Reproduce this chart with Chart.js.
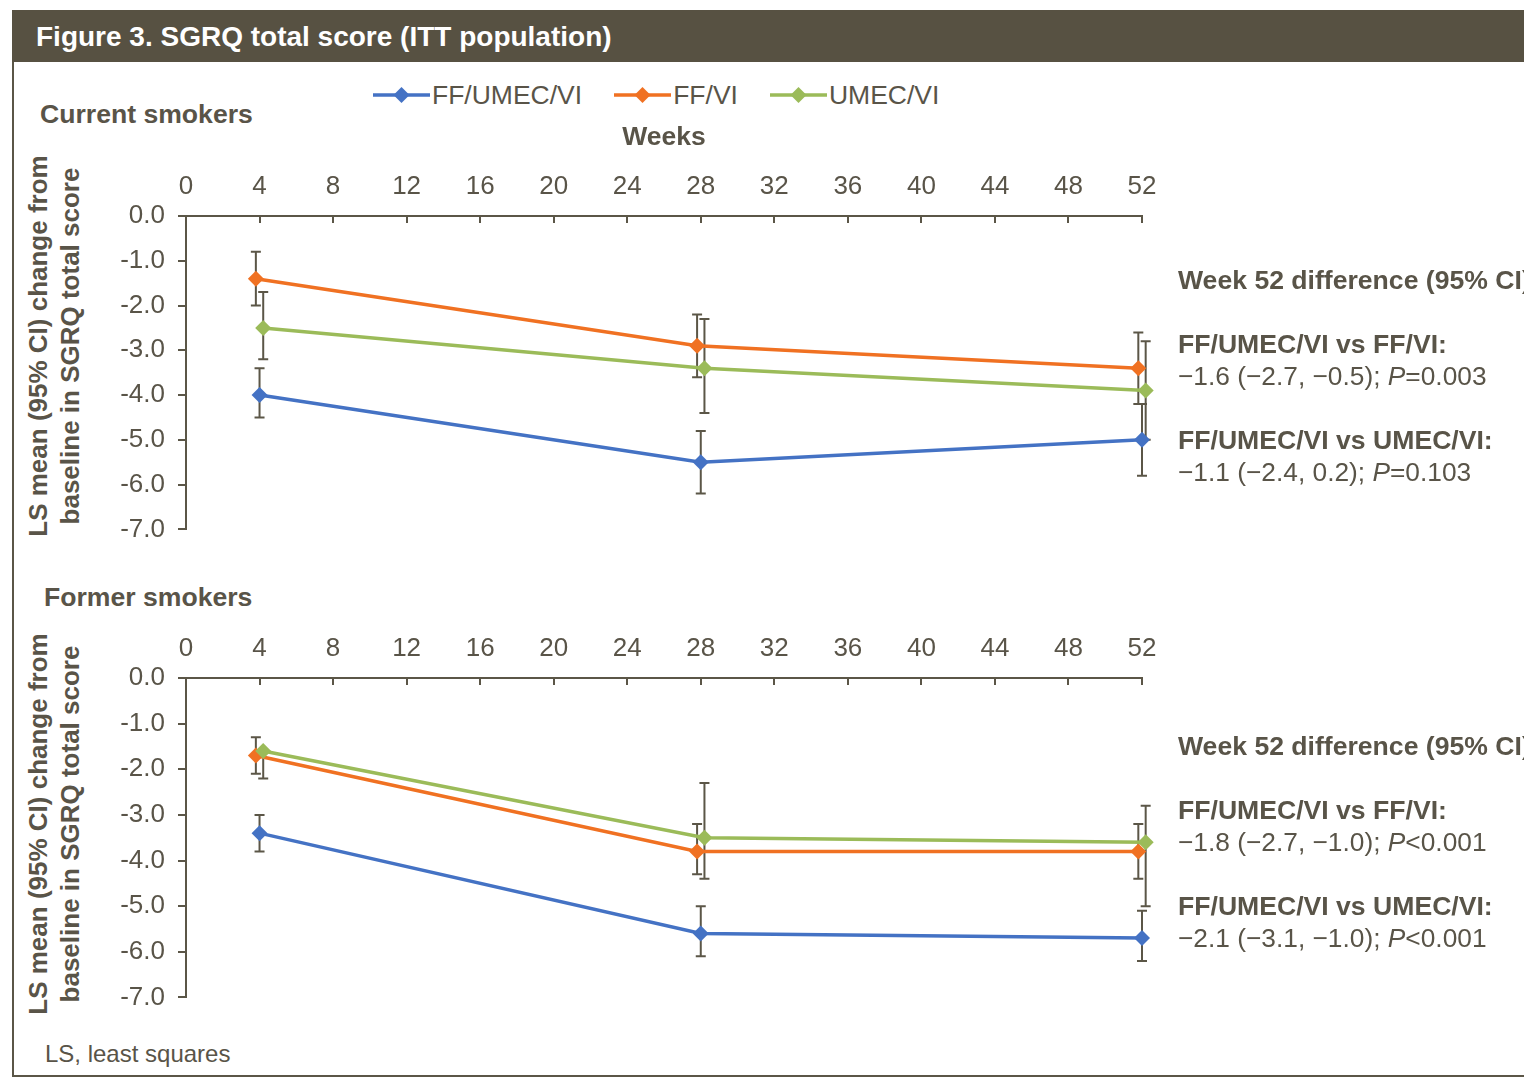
<!DOCTYPE html>
<html>
<head>
<meta charset="utf-8">
<script src="https://cdn.jsdelivr.net/npm/chart.js@4.4.1/dist/chart.umd.min.js"></script>
<style>
  body { margin: 0; background: #fff; font-family: "Liberation Sans", Arial, sans-serif; color: #595448; }
  #page { position: relative; width: 1524px; height: 1085px; overflow: hidden; }
  .frame { position: absolute; left: 12px; top: 10px; width: 1600px; height: 1067px; border: 2px solid #5b5647; box-sizing: border-box; }
  .header { position: absolute; left: 12px; top: 10px; width: 1600px; height: 52px; background: #575142; }
  .title { position: absolute; left: 36px; top: 10px; line-height: 54px; font-size: 28px; font-weight: bold; color: #fff; }
  .lbl { position: absolute; white-space: nowrap; font-size: 26.3px; line-height: 32px; }
  .b { font-weight: bold; font-size: 26.6px; }
  .ytitle { position: absolute; white-space: nowrap; font-size: 26px; font-weight: bold; line-height: 32px; text-align: center;
            transform: translate(-50%, -50%) rotate(-90deg); }
  #legend { position: absolute; left: 373px; top: 79px; display: flex; gap: 32px; font-size: 26.5px; line-height: 32px; }
  #legend .item { display: flex; align-items: center; }
  #legend svg { margin-right: 2px; }
  canvas { position: absolute; left: 0; }
</style>
</head>
<body>
<div id="page">
  <div class="frame"></div>
  <div class="header"></div>
  <div class="title">Figure 3. SGRQ total score (ITT population)</div>

  <div id="legend"></div>

  <div class="lbl b" style="left:40px; top:98px;">Current smokers</div>
  <div class="ytitle" style="left:54px; top:346px;">LS mean (95% CI) change from<br>baseline in SGRQ total score</div>
  <canvas id="chartCurrent" width="1180" height="458" style="top:100px;"></canvas>

  <div class="lbl b" style="left:1178px; top:264px;">Week 52 difference (95% CI)</div>
  <div class="lbl b" style="left:1178px; top:328px;">FF/UMEC/VI vs FF/VI:</div>
  <div class="lbl" style="left:1178px; top:360px;">−1.6 (−2.7, −0.5); <i>P</i>=0.003</div>
  <div class="lbl b" style="left:1178px; top:424px;">FF/UMEC/VI vs UMEC/VI:</div>
  <div class="lbl" style="left:1178px; top:456px;">−1.1 (−2.4, 0.2); <i>P</i>=0.103</div>

  <div class="lbl b" style="left:44px; top:581px;">Former smokers</div>
  <div class="ytitle" style="left:54px; top:824px;">LS mean (95% CI) change from<br>baseline in SGRQ total score</div>
  <canvas id="chartFormer" width="1180" height="414" style="top:612px;"></canvas>

  <div class="lbl b" style="left:1178px; top:730px;">Week 52 difference (95% CI)</div>
  <div class="lbl b" style="left:1178px; top:794px;">FF/UMEC/VI vs FF/VI:</div>
  <div class="lbl" style="left:1178px; top:826px;">−1.8 (−2.7, −1.0); <i>P</i>&lt;0.001</div>
  <div class="lbl b" style="left:1178px; top:890px;">FF/UMEC/VI vs UMEC/VI:</div>
  <div class="lbl" style="left:1178px; top:922px;">−2.1 (−3.1, −1.0); <i>P</i>&lt;0.001</div>

  <div class="lbl" style="left:45px; top:1038px; font-size:24px;">LS, least squares</div>
</div>

<script>
// donnees

const weeks = [4, 28, 52];
const weekTicks = [0, 4, 8, 12, 16, 20, 24, 28, 32, 36, 40, 44, 48, 52];
const scoreTicks = [0, -1, -2, -3, -4, -5, -6, -7];
const seriesNames = ['FF/UMEC/VI', 'FF/VI', 'UMEC/VI'];

// current smokers
const curTripleMean = [-4.0, -5.5, -5.0];
const curTripleLo   = [-4.5, -6.2, -5.8];
const curTripleHi   = [-3.4, -4.8, -4.2];
const curFfviMean = [-1.4, -2.9, -3.4];
const curFfviLo   = [-2.0, -3.6, -4.2];
const curFfviHi   = [-0.8, -2.2, -2.6];
const curUmecMean = [-2.5, -3.4, -3.9];
const curUmecLo   = [-3.2, -4.4, -5.0];
const curUmecHi   = [-1.7, -2.3, -2.8];

// former smokers
const forTripleMean = [-3.4, -5.6, -5.7];
const forTripleLo   = [-3.8, -6.1, -6.2];
const forTripleHi   = [-3.0, -5.0, -5.1];
const forFfviMean = [-1.7, -3.8, -3.8];
const forFfviLo   = [-2.1, -4.3, -4.4];
const forFfviHi   = [-1.3, -3.2, -3.2];
const forUmecMean = [-1.6, -3.5, -3.6];
const forUmecLo   = [-2.2, -4.4, -5.0];
const forUmecHi   = [-1.6, -2.3, -2.8];

// styles
const COLORS = ['#4472C4', '#F07122', '#9BBB59'];
const DODGE = [0, -0.2, 0.2];   // petit decalage horizontal comme dans l'original
const ORDER = [2, 1, 0];
const AXIS = '#5b5647';
const TEXT = '#595448';

Chart.defaults.font.family = '"Liberation Sans", Arial, sans-serif';
Chart.defaults.color = TEXT;

// legende html
const legend = document.getElementById('legend');
seriesNames.forEach((name, i) => {
  const item = document.createElement('div');
  item.className = 'item';
  item.innerHTML =
    '<svg width="57" height="18"><line x1="0" y1="9" x2="57" y2="9" stroke="' + COLORS[i] + '" stroke-width="3.5"/>' +
    '<polygon points="28.5,1 36.5,9 28.5,17 20.5,9" fill="' + COLORS[i] + '"/></svg><span>' + name + '</span>';
  legend.appendChild(item);
});

// barres d'erreur (IC 95%)
const errorBars = {
  id: 'errorBars',
  beforeDatasetsDraw(chart) {
    const { ctx, scales: { x, y } } = chart;
    ctx.save();
    ctx.strokeStyle = AXIS;
    ctx.lineWidth = 2;
    chart.data.datasets.forEach((ds) => {
      ds.data.forEach((p) => {
        const px = x.getPixelForValue(p.x);
        const top = y.getPixelForValue(p.hi);
        const bot = y.getPixelForValue(p.lo);
        ctx.beginPath();
        ctx.moveTo(px, top); ctx.lineTo(px, bot);
        ctx.moveTo(px - 5, top); ctx.lineTo(px + 5, top);
        ctx.moveTo(px - 5, bot); ctx.lineTo(px + 5, bot);
        ctx.stroke();
      });
    });
    ctx.restore();
  }
};

function buildDatasets(groups) {
  return groups.map((g, i) => ({
    label: seriesNames[i],
    data: weeks.map((w, j) => ({ x: w + DODGE[i], y: g[0][j], lo: g[1][j], hi: g[2][j] })),
    borderColor: COLORS[i],
    backgroundColor: COLORS[i],
    borderWidth: 3.5,
    pointStyle: 'rectRot',
    pointRadius: 8,
    pointHoverRadius: 8,
    pointBorderWidth: 0,
    order: ORDER[i],
    clip: false,
  }));
}

function makeChart(id, groups, withTitle, axisHeight) {
  return new Chart(document.getElementById(id), {
    type: 'line',
    data: { datasets: buildDatasets(groups) },
    plugins: [errorBars],
    options: {
      responsive: false,
      animation: false,
      layout: { padding: { left: 0, top: 0, right: 38, bottom: 22 } },
      plugins: { legend: { display: false }, tooltip: { enabled: false } },
      scales: {
        x: {
          type: 'linear',
          position: 'top',
          min: weekTicks[0],
          max: weekTicks[weekTicks.length - 1],
          afterBuildTicks: (s) => { s.ticks = weekTicks.map(v => ({ value: v })); },
          ticks: { padding: 21, maxRotation: 0, autoSkip: false, color: TEXT, font: { size: 26 } },
          grid: { drawOnChartArea: false, drawTicks: true, tickLength: -7, color: AXIS, lineWidth: 2 },
          border: { color: AXIS, width: 2 },
          title: { display: withTitle, text: 'Weeks', color: TEXT, font: { size: 26.5, weight: 'bold' }, padding: { top: 22, bottom: 0 } },
          afterFit: (s) => { s.height = axisHeight; }
        },
        y: {
          type: 'linear',
          min: scoreTicks[scoreTicks.length - 1],
          max: scoreTicks[0],
          afterBuildTicks: (s) => { s.ticks = scoreTicks.map(v => ({ value: v })); },
          ticks: { padding: 13, color: TEXT, font: { size: 26 }, callback: (v) => v.toFixed(1) },
          grid: { drawOnChartArea: false, drawTicks: true, tickLength: 8, color: AXIS, lineWidth: 2 },
          border: { color: AXIS, width: 2 },
          afterFit: (s) => { s.width = 186; }
        }
      }
    }
  });
}

makeChart('chartCurrent', [
  [curTripleMean, curTripleLo, curTripleHi],
  [curFfviMean, curFfviLo, curFfviHi],
  [curUmecMean, curUmecLo, curUmecHi]
], true, 116);

makeChart('chartFormer', [
  [forTripleMean, forTripleLo, forTripleHi],
  [forFfviMean, forFfviLo, forFfviHi],
  [forUmecMean, forUmecLo, forUmecHi]
], false, 66);
</script>
</body>
</html>
